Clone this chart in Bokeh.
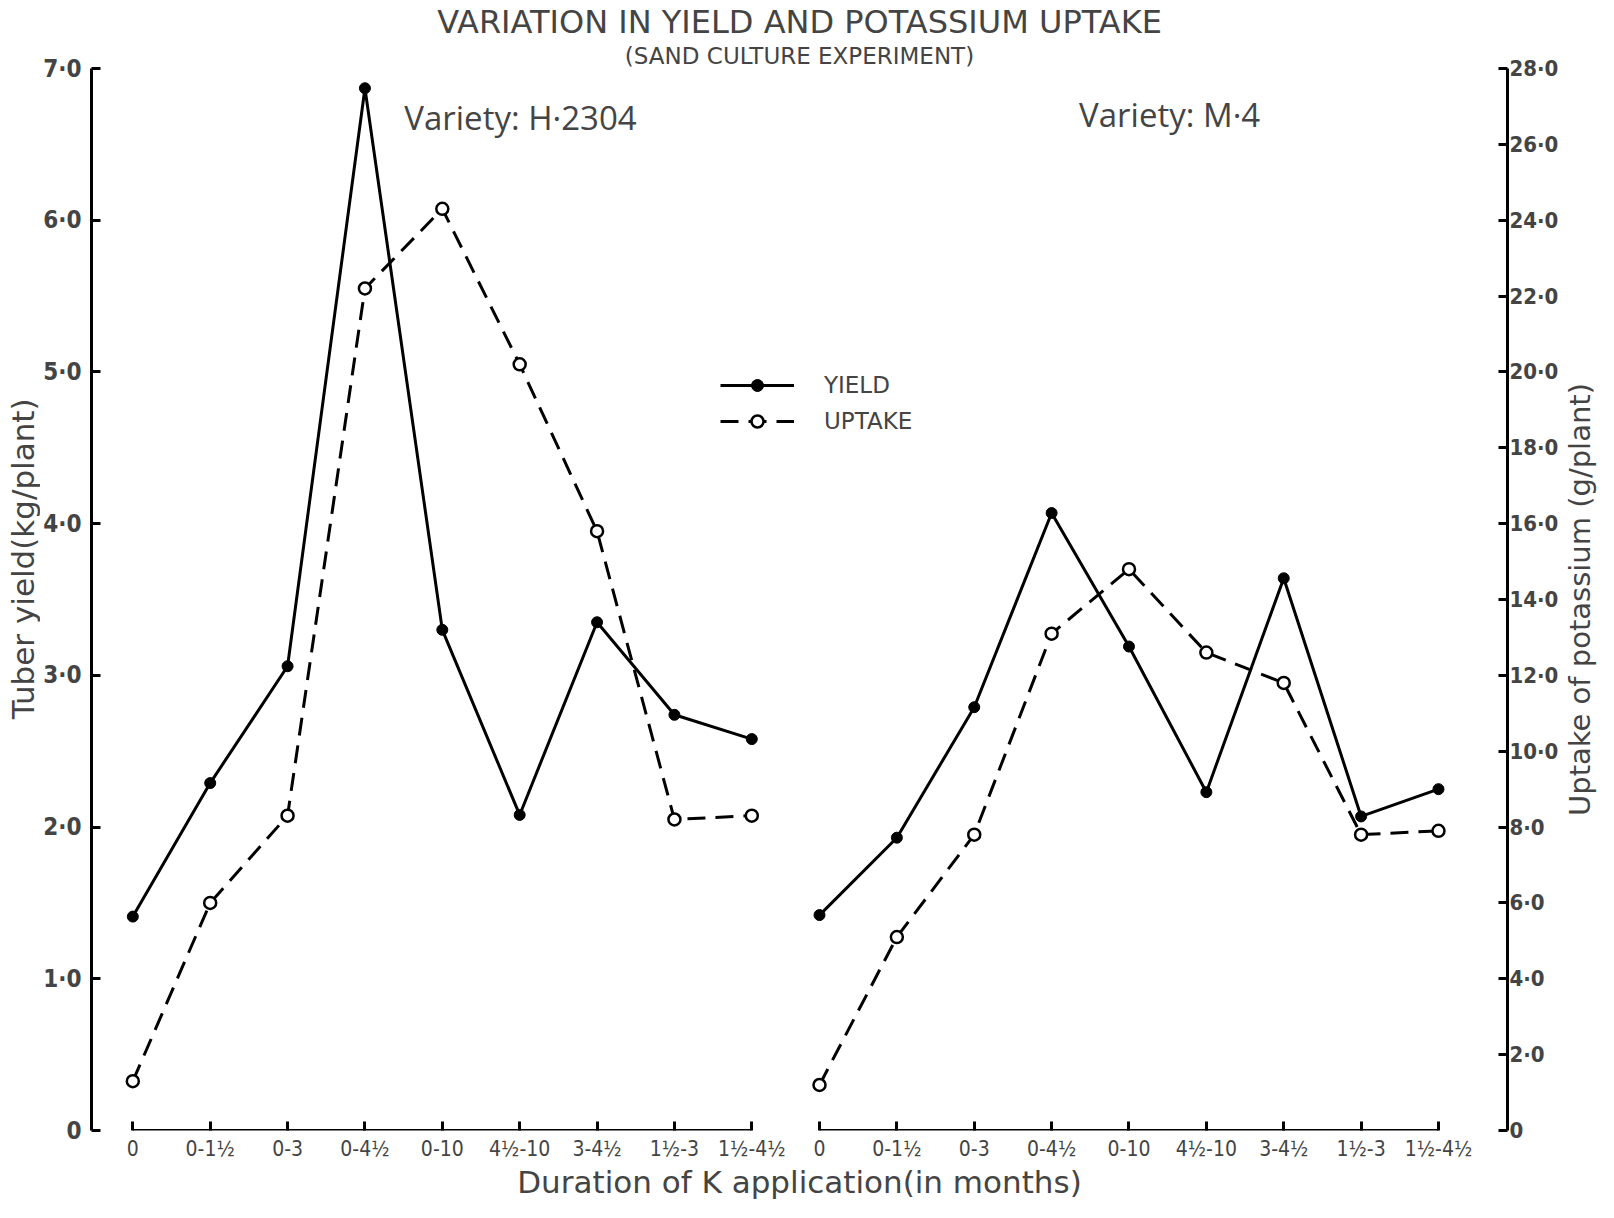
from bokeh.plotting import figure
from bokeh.layouts import row
from bokeh.models import (Range1d, LinearAxis, FixedTicker, Legend, LegendItem,
                          Label, Title)
from bokeh.embed import file_html
from bokeh.resources import INLINE

# ---------------- data ----------------
categories = ["0", "0-1½", "0-3", "0-4½", "0-10", "4½-10", "3-4½", "1½-3", "1½-4½"]

h2304_yield = [1.41, 2.29, 3.06, 6.87, 3.30, 2.08, 3.35, 2.74, 2.58]      # kg/plant
h2304_uptake = [1.3, 6.0, 8.3, 22.2, 24.3, 20.2, 15.8, 8.2, 8.3]          # g/plant
m4_yield = [1.42, 1.93, 2.79, 4.07, 3.19, 2.23, 3.64, 2.07, 2.25]         # kg/plant
m4_uptake = [1.2, 5.1, 7.8, 13.1, 14.8, 12.6, 11.8, 7.8, 7.9]             # g/plant

yield_ticks = [0, 1, 2, 3, 4, 5, 6, 7]
yield_tick_labels = ["0", "1·0", "2·0", "3·0", "4·0", "5·0", "6·0", "7·0"]
uptake_ticks = [0, 2, 4, 6, 8, 10, 12, 14, 16, 18, 20, 22, 24, 26, 28]
uptake_tick_labels = ["0", "2·0", "4·0", "6·0", "8·0", "10·0", "12·0", "14·0",
                      "16·0", "18·0", "20·0", "22·0", "24·0", "26·0", "28·0"]

yield_title = "Tuber yield(kg/plant)"
uptake_title = "Uptake of potassium (g/plant)"

# ---------------- layout helpers ----------------
PANEL_OFFSET = 8.875          # horizontal shift of the second panel (x units)
left_x = [float(i) for i in range(len(categories))]
right_x = [PANEL_OFFSET + i for i in range(len(categories))]

TICK_FONT = "'Liberation Sans Narrow', 'DejaVu Sans Condensed', 'Liberation Sans'"
TEXT_FONT = "'Open Sans', 'DejaVu Sans'"
WIDE_FONT = "'DejaVu Sans', 'Open Sans'"
H = 1202

p = figure(width=1521, height=H,
           x_range=Range1d(-0.534, right_x[-1] + 0.892),
           y_range=Range1d(0, 7),
           output_backend="svg", toolbar_location=None,
           min_border_left=46, min_border_right=48, min_border_top=64,
           min_border_bottom=0)
p.extra_y_ranges = {"uptake": Range1d(0, 28)}
p.grid.visible = False
p.outline_line_color = None
p.background_fill_color = "white"
p.border_fill_color = "white"

# ---------------- titles ----------------
p.add_layout(Title(text="(SAND CULTURE EXPERIMENT)", align="center",
                   text_font=WIDE_FONT, text_font_size="23px",
                   text_font_style="normal", standoff=0, offset=0), "above")
p.add_layout(Title(text="VARIATION IN YIELD AND POTASSIUM UPTAKE", align="center",
                   text_font=WIDE_FONT, text_font_size="32px",
                   text_font_style="normal", standoff=0, offset=0), "above")

# ---------------- left (yield) axis ----------------
ya = p.yaxis[0]
ya.ticker = FixedTicker(ticks=yield_ticks)
ya.major_label_overrides = {t: s for t, s in zip(yield_ticks, yield_tick_labels)}
ya.bounds = (yield_ticks[0], yield_ticks[-1])
ya.axis_line_width = 3
ya.major_tick_line_width = 3
ya.major_tick_in = 9
ya.major_tick_out = 0
ya.minor_tick_line_color = None
ya.major_label_text_font = TICK_FONT
ya.major_label_text_font_size = "24px"
ya.major_label_text_font_style = "bold"
ya.major_label_standoff = 10
ya.axis_label_standoff = 0

# ---------------- right (uptake) axis ----------------
ra = LinearAxis(y_range_name="uptake", ticker=FixedTicker(ticks=uptake_ticks))
ra.major_label_overrides = {t: s for t, s in zip(uptake_ticks, uptake_tick_labels)}
ra.bounds = (uptake_ticks[0], uptake_ticks[-1])
ra.axis_line_width = 3
ra.major_tick_line_width = 3
ra.major_tick_in = 9
ra.major_tick_out = 0
ra.minor_tick_line_color = None
ra.major_label_text_font = TICK_FONT
ra.major_label_text_font_size = "22px"
ra.major_label_text_font_style = "bold"
ra.major_label_standoff = 2
ra.axis_label_standoff = 0
p.add_layout(ra, "right")

# ---------------- x axis: ticks + labels for both panels ----------------
xa = p.xaxis[0]
xa.ticker = FixedTicker(ticks=left_x + right_x)
xa.major_label_overrides = {t: s for t, s in zip(left_x + right_x, categories + categories)}
xa.axis_line_color = None
xa.major_tick_line_width = 3
xa.major_tick_in = 9
xa.major_tick_out = 0
xa.minor_tick_line_color = None
xa.major_label_text_font = TICK_FONT
xa.major_label_text_font_size = "21px"
xa.major_label_standoff = 6
xa.axis_label = "Duration of K application(in months)"
xa.axis_label_text_font = WIDE_FONT
xa.axis_label_text_font_size = "31px"
xa.axis_label_text_font_style = "normal"
xa.axis_label_standoff = 0

# separate base lines of the two panels (drawn at y = 0)
for xs in (left_x, right_x):
    base = LinearAxis(fixed_location=0, bounds=(xs[0], xs[-1]),
                      ticker=FixedTicker(ticks=[]))
    base.axis_line_width = 3
    base.major_tick_line_color = None
    base.minor_tick_line_color = None
    base.major_label_text_font_size = "0px"
    base.major_label_standoff = 0
    base.axis_label_standoff = 0
    p.add_layout(base, "above")

# ---------------- series ----------------
def series(xs, ys, dash, fill, range_name="default"):
    kw = {} if range_name == "default" else {"y_range_name": range_name}
    ln = p.line(xs, ys, line_color="black", line_width=3, line_dash=dash, **kw)
    if fill:
        sc = p.scatter(xs, ys, marker="circle", size=11, fill_color="black",
                       line_color="black", line_width=1, **kw)
    else:
        sc = p.scatter(xs, ys, marker="circle", size=12, fill_color="white",
                       line_color="black", line_width=2.5, **kw)
    return ln, sc

yl1 = series(left_x, h2304_yield, "solid", True)
ul1 = series(left_x, h2304_uptake, "18 10", False, "uptake")
series(right_x, m4_yield, "solid", True)
series(right_x, m4_uptake, "18 10", False, "uptake")

legend = Legend(items=[LegendItem(label="YIELD", renderers=list(yl1)),
                       LegendItem(label="UPTAKE", renderers=list(ul1))],
                location=(629, 694), orientation="vertical",
                glyph_width=74, glyph_height=30, spacing=6, padding=0, margin=0,
                label_standoff=30, label_text_font=WIDE_FONT,
                label_text_font_size="23px", border_line_color=None,
                background_fill_alpha=0)
p.add_layout(legend, "center")

# ---------------- annotations ----------------
p.add_layout(Label(x=5.01, y=6.68, text="Variety: H·2304", text_align="center",
                   text_baseline="middle", text_font=TEXT_FONT,
                   text_font_size="33px"))
p.add_layout(Label(x=13.40, y=6.70, text="Variety: M·4", text_align="center",
                   text_baseline="middle", text_font=TEXT_FONT,
                   text_font_size="33px"))


# ---------------- side strips carrying the rotated axis titles ----------------
def title_strip(width, text, cx, cy, size):
    f = figure(width=width, height=H, x_range=Range1d(0, width),
               y_range=Range1d(0, H), x_axis_type=None, y_axis_type=None,
               output_backend="svg", toolbar_location=None, min_border=0)
    f.grid.visible = False
    f.outline_line_color = None
    f.add_layout(Label(x=cx, y=H - cy, text=text, angle=90, angle_units="deg",
                       text_align="center", text_baseline="middle",
                       text_font=WIDE_FONT, text_font_size=size))
    return f


left_strip = title_strip(40, yield_title, 22, 555, "31px")
right_strip = title_strip(37, uptake_title, 18.5, 601, "29px")

layout = row(left_strip, p, right_strip, spacing=0)

open("out.html", "w").write(file_html(layout, INLINE))
